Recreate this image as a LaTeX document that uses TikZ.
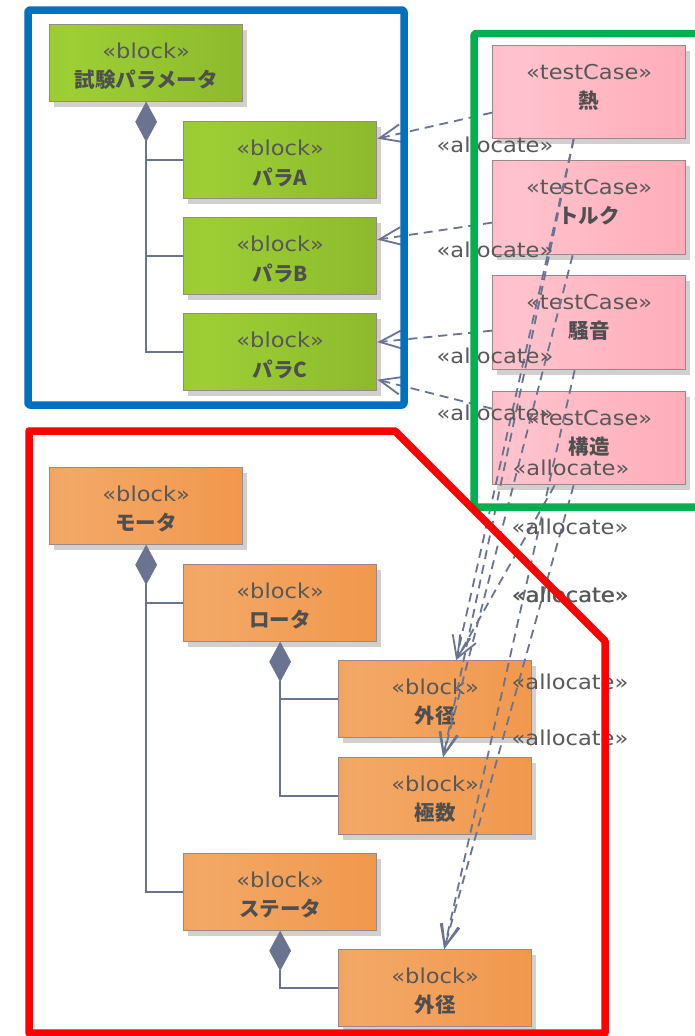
\documentclass[tikz,border=0pt]{standalone}
\usepackage{fontspec}
\setmainfont{DejaVu Sans}
\newfontfamily\latfont{DejaVu Sans}[FakeStretch=1.1]
\newfontfamily\jpfont{Noto Sans CJK JP}
\usetikzlibrary{shapes.geometric,arrows.meta,calc}

% palette
\definecolor{grL}{HTML}{8DBE2F}
\definecolor{grM}{HTML}{9DCF34}
\definecolor{grR}{HTML}{84AE2A}
\definecolor{orL}{HTML}{EF9448}
\definecolor{orM}{HTML}{F3A866}
\definecolor{orR}{HTML}{EF8F3E}
\definecolor{pkL}{HTML}{FFA0B0}
\definecolor{pkM}{HTML}{FFC3CD}
\definecolor{pkR}{HTML}{FFA0AE}
\definecolor{boxline}{HTML}{9A8888}
\definecolor{shadowgray}{HTML}{D0D0D0}
\definecolor{conn}{HTML}{6A7490}
\definecolor{txt}{HTML}{585858}
\definecolor{frameblue}{HTML}{0070C0}
\definecolor{framegreen}{HTML}{00B050}
\definecolor{framered}{HTML}{FF0000}

\pgfdeclarehorizontalshading{greenfill}{100bp}{color(0bp)=(grL); color(30bp)=(grM); color(100bp)=(grR)}
\pgfdeclarehorizontalshading{orangefill}{100bp}{color(0bp)=(orL); color(30bp)=(orM); color(100bp)=(orR)}
\pgfdeclarehorizontalshading{pinkfill}{100bp}{color(0bp)=(pkL); color(30bp)=(pkM); color(100bp)=(pkR)}

\tikzset{
  boxsty/.style={draw=boxline, line width=1.3pt, inner sep=0pt, shade, shading=#1},
  stereo/.style={text=txt, inner sep=0pt, font=\latfont\fontsize{20.5}{24}\selectfont},
  boxtitle/.style={text=txt!90!black, inner sep=0pt, font=\jpfont\bfseries\fontsize{20.5}{24}\selectfont},
  dia/.style={shape=diamond, fill=conn, draw=conn, line width=0.6pt, minimum width=21pt, minimum height=39pt, inner sep=0pt, outer sep=0pt},
  compl/.style={draw=conn, line width=1.6pt},
  alloc/.style={draw=conn, line width=1.8pt, dash pattern=on 9pt off 6pt,
    -{Straight Barb[length=22pt,width=18pt,line width=1.8pt]}},
  alloclabel/.style={text=txt, inner sep=0pt, font=\latfont\fontsize{20.5}{24}\selectfont},
  frame/.style={line width=7.5pt, line join=round}
}

% a block: name, left, top, width, height, shading, stereotype, title
\newcommand{\umlbox}[8]{%
  \fill[shadowgray] ($(#2,#3)+(5,6)$) rectangle ($(#2,#3)+(#4+5,#5+6)$);
  \node[boxsty=#6, minimum width=#4pt, minimum height=#5pt, anchor=north west] (#1) at (#2,#3) {};
  \node[stereo] at ($(#1.north)+(0,27)$) {«#7»};
  \node[boxtitle] at ($(#1.north)+(0,56)$) {#8};
}

\begin{document}
\begin{tikzpicture}[x=1pt,y=-1pt]
\useasboundingbox[fill=white] (0,0) rectangle (695,1036);
\clip (0,0) rectangle (695,1036);

% test parameters
\umlbox{tp}{49}{24}{193}{77}{greenfill}{block}{試験パラメータ}
\umlbox{pA}{183}{121}{193}{77}{greenfill}{block}{パラA}
\umlbox{pB}{183}{217}{193}{77}{greenfill}{block}{パラB}
\umlbox{pC}{183}{313}{193}{77}{greenfill}{block}{パラC}

% test cases
\umlbox{heat}{492}{45}{193}{93}{pinkfill}{testCase}{熱}
\umlbox{torque}{492}{160}{193}{94}{pinkfill}{testCase}{トルク}
\umlbox{noise}{492}{275}{193}{94}{pinkfill}{testCase}{騒音}
\umlbox{struct}{492}{391}{193}{93}{pinkfill}{testCase}{構造}

% motor structure
\umlbox{motor}{49}{467}{193}{77}{orangefill}{block}{モータ}
\umlbox{rotor}{183}{564}{193}{77}{orangefill}{block}{ロータ}
\umlbox{rod}{338}{660}{193}{77}{orangefill}{block}{外径}
\umlbox{pole}{338}{757}{193}{77}{orangefill}{block}{極数}
\umlbox{stator}{183}{853}{193}{77}{orangefill}{block}{ステータ}
\umlbox{sod}{338}{949}{193}{77}{orangefill}{block}{外径}

% composition
\node[dia, anchor=north] (d1) at (tp.south) {};
\draw[compl] (d1.south) |- (pA.west);
\draw[compl] (d1.south) |- (pB.west);
\draw[compl] (d1.south) |- (pC.west);

\node[dia, anchor=north] (d2) at (motor.south) {};
\draw[compl] (d2.south) |- (rotor.west);
\draw[compl] (d2.south) |- (stator.west);

\node[dia, anchor=north] (d3) at (rotor.south) {};
\draw[compl] (d3.south) |- (rod.west);
\draw[compl] (d3.south) |- (pole.west);

\node[dia, anchor=north] (d4) at (stator.south) {};
\draw[compl] (d4.south) |- (sod.west);

% allocations to the parameters
\draw[alloc] ([yshift=-20.5pt]heat.west) -- ([yshift=21.5pt]pA.east);
\draw[alloc] ([yshift=-15pt]torque.west) -- ([yshift=16.5pt]pB.east);
\draw[alloc] ([yshift=-8pt]noise.west) -- ([yshift=10pt]pC.east);
\draw[alloc] ([yshift=29.5pt]struct.west) -- ([yshift=-27.5pt]pC.east);

% allocations to the motor parts
\draw[alloc] ([xshift=-15.5pt]heat.south) -- ([xshift=21pt]rod.north);
\draw[alloc] ([xshift=-15.5pt]heat.south) -- ([xshift=8pt]pole.north);
\draw[alloc] ([xshift=-16.5pt]torque.south) -- ([xshift=8pt]pole.north);
\draw[alloc] ([xshift=-14.5pt]noise.south) -- ([xshift=9pt]sod.north);
\draw[alloc] ([xshift=-34.5pt]struct.south) -- ([xshift=21pt]rod.north);
\draw[alloc] ([xshift=-15.5pt]struct.south) -- ([xshift=9pt]sod.north);

% labels
\node[alloclabel] (la1) at (495,145) {«allocate»};
\node[alloclabel] (la2) at (495,250) {«allocate»};
\node[alloclabel] (la3) at (495,356) {«allocate»};
\node[alloclabel] (la4) at (495,413) {«allocate»};
\node[alloclabel] (la5) at (571,468) {«allocate»};
\node[alloclabel] (la6) at (570,527) {«allocate»};
\node[alloclabel] (la7) at (570,595) {«allocate»};
\node[alloclabel] (la8) at (570.6,595.3) {«allocate»};
\node[alloclabel] (la9) at (570,682) {«allocate»};
\node[alloclabel] (la10) at (570,738) {«allocate»};

% grouping frames
\draw[frame, frameblue, rounded corners=2pt] (28,10) rectangle (404,405);
\draw[frame, framegreen, rounded corners=2pt] (474,33.5) rectangle (720,507);
\draw[frame, framered] (29,431) -- (395,431) -- (605,641) -- (605,1033) -- (29,1033) -- cycle;
\end{tikzpicture}
\end{document}
